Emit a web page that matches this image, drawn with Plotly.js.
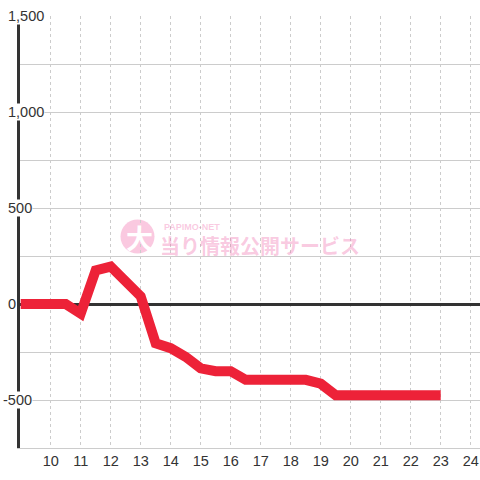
<!DOCTYPE html>
<html>
<head>
<meta charset="utf-8">
<script src="https://cdn.plot.ly/plotly-3.0.1.min.js"></script>
<style>html,body{margin:0;padding:0;background:#fff;}#chart{width:480px;height:480px;}</style>
</head>
<body>
<div id="chart"></div>
<script>
// ---- data ----
const hours = [9, 9.5, 10, 10.5, 11, 11.5, 12, 12.5, 13, 13.5, 14, 14.5, 15, 15.5, 16, 16.5, 17, 17.5, 18, 18.5, 19, 19.5, 20, 20.5, 21, 21.5, 22, 22.5, 23];
const balance = [0, 0, 0, 0, -50, 175, 195, 110, 40, -205, -230, -275, -335, -350, -350, -395, -395, -395, -395, -395, -415, -475, -475, -475, -475, -475, -475, -475, -475];
const xTickVals = [10, 11, 12, 13, 14, 15, 16, 17, 18, 19, 20, 21, 22, 23, 24];
const xTickText = ["10", "11", "12", "13", "14", "15", "16", "17", "18", "19", "20", "21", "22", "23", "24"];
const yTickVals = [1500, 1000, 500, 0, -500];
const yTickText = ["1,500", "1,000", "500", "0", "-500"];
const watermarkBrand = "PAPIMO-NET";
const watermarkText = "当り情報公開サービス";
const watermarkLogo = "大";

const font = "Liberation Sans, Arial, sans-serif";
const cjk = "Noto Sans CJK JP, sans-serif";

const yLabelAnnotations = yTickVals.map((v, i) => ({
  xref: "paper", yref: "y",
  x: (7 - 20) / 460, y: v,
  xanchor: "left", yanchor: "middle",
  xshift: v < 0 ? -5 : 0,
  text: yTickText[i],
  showarrow: false,
  bgcolor: "#ffffff",
  borderpad: 0,
  font: {family: font, size: 14.5, color: "#333"}
}));

const wmColor = "rgba(240,105,170,0.36)";
const watermark = [
  {xref: "paper", yref: "paper", x: (162 - 20) / 460, y: (448 - 226.5) / 432, xanchor: "left", yanchor: "middle",
   text: "<b>" + watermarkBrand + "</b>", showarrow: false, font: {family: font, size: 9, color: wmColor}},
  {xref: "paper", yref: "paper", x: (158 - 20) / 460, y: (448 - 245) / 432, xanchor: "left", yanchor: "middle",
   text: "<b>" + watermarkText + "</b>", showarrow: false, font: {family: cjk, size: 20, color: wmColor}},
  {xref: "paper", yref: "paper", x: (139 - 20) / 460, y: (448 - 238) / 432, xanchor: "center", yanchor: "middle",
   text: "<b>" + watermarkLogo + "</b>", showarrow: false, font: {family: cjk, size: 27, color: "#ffffff"}}
];

const trace = {
  x: hours, y: balance,
  type: "scatter", mode: "lines",
  line: {color: "#ed2238", width: 10},
  hoverinfo: "skip"
};

const layout = {
  width: 480, height: 480,
  margin: {l: 20, r: 0, t: 16, b: 32},
  paper_bgcolor: "#ffffff",
  plot_bgcolor: "#ffffff",
  showlegend: false,
  xaxis: {
    range: [8.977, 24.31],
    tickvals: xTickVals, ticktext: xTickText,
    showgrid: true, gridcolor: "#cccccc", gridwidth: 1, griddash: "3px,3px",
    showline: true, linecolor: "#cccccc", linewidth: 1,
    zeroline: false, ticks: "",
    tickfont: {family: font, size: 14.5, color: "#333"},
    fixedrange: true
  },
  yaxis: {
    range: [-750, 1500],
    dtick: 250, tick0: 0,
    showticklabels: false,
    showgrid: true, gridcolor: "#cccccc", gridwidth: 1,
    showline: true, linecolor: "#333333", linewidth: 3,
    zeroline: true, zerolinecolor: "#333333", zerolinewidth: 3,
    layer: "below traces",
    ticks: "",
    fixedrange: true
  },
  shapes: [
    {type: "circle", xref: "paper", yref: "paper",
     xsizemode: "pixel", ysizemode: "pixel",
     xanchor: (137.5 - 20) / 460, yanchor: (448 - 236.5) / 432,
     x0: -17, x1: 17, y0: -17, y1: 17,
     fillcolor: wmColor, line: {width: 0}, layer: "between"}
  ],
  annotations: yLabelAnnotations.concat(watermark)
};

Plotly.newPlot("chart", [trace], layout, {displayModeBar: false, staticPlot: true});
</script>
</body>
</html>
